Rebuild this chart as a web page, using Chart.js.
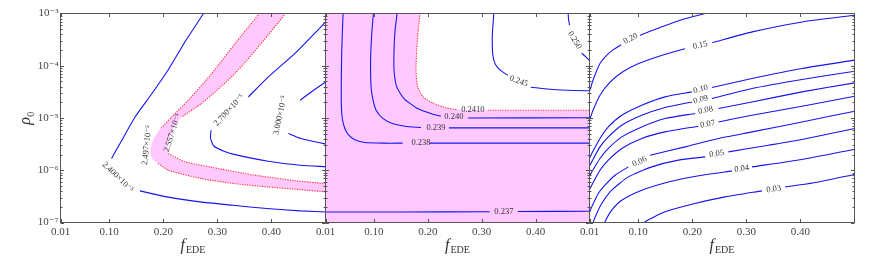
<!DOCTYPE html>
<html>
<head>
<meta charset="utf-8">
<script src="https://cdn.jsdelivr.net/npm/chart.js@4.4.0/dist/chart.umd.min.js"></script>
<style>
  html, body { margin: 0; padding: 0; background: #fff; }
  #wrap { position: relative; width: 872px; height: 262px; }
  #wrap canvas { position: absolute; left: 0; top: 0; }
</style>
</head>
<body>
<div id="wrap">
  <canvas id="c1" width="872" height="262"></canvas>
  <canvas id="c2" width="872" height="262"></canvas>
  <canvas id="c3" width="872" height="262"></canvas>
</div>
<script>
// axes
const xTicks = [0.01, 0.1, 0.2, 0.3, 0.4];
const xTickLabels = ['0.01', '0.10', '0.20', '0.30', '0.40'];
const yTicks = [1e-7, 1e-6, 1e-5, 1e-4, 1e-3];
const yTickLabels = ['10⁻⁷', '10⁻⁶', '10⁻⁵', '10⁻⁴', '10⁻³'];

// panel 1 contours [f_EDE, rho0], split where the inline label sits
const p1c2400 = [
  [[0.279, 1.26e-3], [0.2744, 1e-3], [0.242, 3.08e-4], [0.2087, 8.22e-5], [0.1781, 2.85e-5], [0.1476, 1.035e-5], [0.1235, 3.76e-6], [0.1044, 1.68e-6]],
  [[0.1569, 4.03e-7], [0.2063, 3.09e-7], [0.268, 2.48e-7], [0.329, 2.14e-7], [0.3915, 1.85e-7], [0.4532, 1.67e-7], [0.51, 1.58e-7]]
];
const p1c2497 = [
  [[0.379, 1.26e-3], [0.3772, 1e-3], [0.3328, 2.67e-4], [0.2896, 7.11e-5], [0.2463, 2.19e-5], [0.2156, 1.05e-5], [0.1957, 6.38e-6]],
  [[0.1907, 1.35e-6], [0.2093, 1.0e-6], [0.2711, 6.89e-7], [0.3328, 5.53e-7], [0.3944, 4.78e-7], [0.4531, 4.25e-7], [0.5013, 3.88e-7]]
];
const p1c2497Bend = [[0.1828, 4.10e-6], [0.1763, 2.42e-6], [0.1791, 1.70e-6]];
const p1c2557 = [
  [[0.4272, 1.26e-3], [0.4254, 1e-3], [0.3939, 3.85e-4], [0.3328, 7.11e-5], [0.2711, 1.90e-5], [0.2341, 1.05e-5]],
  [[0.2093, 2.09e-6], [0.2402, 1.45e-6], [0.3019, 1.08e-6], [0.3637, 8.22e-7], [0.4439, 6.31e-7], [0.5013, 5.53e-7]]
];
const p1c2557Bend = [[0.2217, 7.28e-6], [0.2106, 3.76e-6]];
const p1c2700 = [
  [[0.3574, 2.54e-5], [0.3939, 6.04e-5], [0.4439, 1.74e-4], [0.5087, 8.5e-4]],
  [[0.2883, 5.84e-6], [0.2874, 4.10e-6], [0.2939, 2.88e-6], [0.3124, 2.32e-6], [0.3328, 1.99e-6], [0.3939, 1.49e-6], [0.4531, 1.25e-6], [0.5013, 1.17e-6]]
];
const p1c3000 = [
  [[0.4531, 2.19e-5], [0.4754, 3.26e-5], [0.5013, 4.95e-5]],
  [[0.4315, 5.05e-6], [0.4531, 4.10e-6], [0.5013, 3.15e-6]]
];
const p1Labels = [
  ['2.400×10⁻⁵', 0.1161, 7.36e-7],
  ['2.497×10⁻⁵', 0.1698, 3.01e-6],
  ['2.557×10⁻⁵', 0.217, 5.23e-6],
  ['2.700×10⁻⁵', 0.3217, 1.41e-5],
  ['3.000×10⁻⁵', 0.4161, 1.13e-5]
];
const p1Angles = [44, -84, -72, -47, -78];

// panel 2
const p2c2410 = [
  [[0.1854, 1.26e-3], [0.1854, 1e-3], [0.1822, 4.79e-4], [0.1793, 1.99e-4], [0.178, 8.22e-5], [0.1807, 4.06e-5], [0.1909, 2.56e-5], [0.2094, 1.92e-5], [0.2335, 1.57e-5], [0.2539, 1.44e-5]],
  [[0.3113, 1.41e-5], [0.51, 1.41e-5]]
];
const p2c240 = [
  [[0.1428, 1.26e-3], [0.1428, 1e-3], [0.1391, 4.79e-4], [0.1372, 1.99e-4], [0.1372, 8.22e-5], [0.1422, 3.94e-5], [0.1557, 2.36e-5], [0.1798, 1.54e-5], [0.2094, 1.18e-5], [0.2243, 1.08e-5]],
  [[0.2743, 1.0e-5], [0.51, 1.01e-5]]
];
const p2c239 = [
  [[0.0989, 1.26e-3], [0.0989, 1e-3], [0.0959, 4.20e-4], [0.0937, 1.28e-4], [0.0946, 3.88e-5], [0.0983, 2.19e-5], [0.1039, 1.41e-5], [0.1169, 9.7e-6], [0.1354, 7.78e-6], [0.1576, 6.97e-6], [0.1872, 6.58e-6]],
  [[0.2391, 6.47e-6], [0.51, 6.47e-6]]
];
const p2c238 = [
  [[0.043, 1.26e-3], [0.0426, 1e-3], [0.0402, 1.99e-4], [0.0393, 2.19e-5], [0.0411, 9.9e-6], [0.0457, 6.38e-6], [0.0532, 4.69e-6], [0.0643, 3.85e-6], [0.0828, 3.40e-6], [0.1198, 3.30e-6], [0.1531, 3.30e-6]],
  [[0.2031, 3.30e-6], [0.51, 3.30e-6]]
];
const p2c237 = [
  [[0.0, 1.59e-7], [0.1483, 1.59e-7], [0.315, 1.61e-7]],
  [[0.3669, 1.62e-7], [0.51, 1.64e-7]]
];
const p2c245 = [
  [[0.3224, 1.26e-3], [0.3224, 1e-3], [0.3196, 3.85e-4], [0.3206, 1.59e-4], [0.3252, 1.07e-4], [0.3354, 8.04e-5], [0.3483, 6.59e-5]],
  [[0.3909, 3.88e-5], [0.4317, 3.51e-5], [0.4724, 3.36e-5], [0.51, 3.30e-5]]
];
const p2c250 = [
  [[0.4604, 1.26e-3], [0.4604, 1e-3], [0.4613, 7.44e-4], [0.4631, 5.97e-4]],
  [[0.4854, 1.74e-4], [0.4928, 1.49e-4], [0.51, 1.0e-4]]
];
const p2Labels = [
  ['0.2410', 0.2835, 1.44e-5],
  ['0.240', 0.2483, 1.035e-5],
  ['0.239', 0.215, 6.5e-6],
  ['0.238', 0.1872, 3.3e-6],
  ['0.237', 0.341, 1.6e-7],
  ['0.245', 0.3687, 5.06e-5],
  ['0.250', 0.4724, 3.08e-4]
];
const p2Angles = [0, 0, 0, 0, 0, 20, 58];

// panel 3
const p3c20 = [
  [[0.0054, 2.39e-5], [0.01, 3.26e-5], [0.0165, 5.29e-5], [0.0294, 1.10e-4], [0.048, 1.82e-4], [0.0683, 2.53e-4]],
  [[0.1035, 3.85e-4], [0.1406, 5.40e-4], [0.1831, 7.78e-4], [0.2239, 1e-3], [0.2369, 1.1e-3]]
];
const p3c15 = [
  [[0.0054, 6.97e-6], [0.01, 9.08e-6], [0.0165, 1.41e-5], [0.0294, 2.73e-5], [0.048, 4.84e-5], [0.0702, 7.53e-5], [0.0998, 1.09e-4], [0.1443, 1.59e-4], [0.1869, 2.12e-4]],
  [[0.2369, 2.76e-4], [0.3109, 4.45e-4], [0.4035, 6.90e-4], [0.5007, 9.28e-4]]
];
const p3c10 = [
  [[0.0054, 1.43e-6], [0.01, 1.70e-6], [0.0141, 2.09e-6], [0.0294, 4.06e-6], [0.0448, 6.76e-6], [0.0696, 1.13e-5], [0.1067, 1.76e-5], [0.1498, 2.54e-5], [0.1993, 3.16e-5]],
  [[0.2363, 3.84e-5], [0.3104, 5.70e-5], [0.403, 8.86e-5], [0.5004, 1.28e-4]]
];
const p3c09 = [
  [[0.0054, 1.0e-6], [0.01, 1.20e-6], [0.0141, 1.45e-6], [0.0294, 2.80e-6], [0.0448, 4.35e-6], [0.0696, 7.28e-6], [0.1067, 1.13e-5], [0.1498, 1.59e-5], [0.1993, 2.03e-5]],
  [[0.2363, 2.36e-5], [0.3104, 3.67e-5], [0.403, 5.46e-5], [0.5004, 7.87e-5]]
];
const p3c08 = [
  [[0.0054, 6.45e-7], [0.01, 7.69e-7], [0.0141, 9.29e-7], [0.0294, 1.68e-6], [0.0448, 2.61e-6], [0.0696, 4.35e-6], [0.1067, 6.76e-6], [0.1498, 9.77e-6], [0.2054, 1.22e-5]],
  [[0.2485, 1.52e-5], [0.3104, 2.03e-5], [0.403, 3.16e-5], [0.5004, 4.70e-5]]
];
const p3c07 = [
  [[0.0054, 3.64e-7], [0.01, 4.34e-7], [0.0141, 5.18e-7], [0.0294, 1.0e-6], [0.0448, 1.56e-6], [0.0696, 2.61e-6], [0.1067, 4.06e-6], [0.1498, 5.42e-6], [0.2115, 6.97e-6]],
  [[0.2485, 8.41e-6], [0.3104, 1.13e-5], [0.403, 1.68e-5], [0.5004, 2.61e-5]]
];
const p3c06 = [
  [[0.0054, 1.26e-7], [0.01, 1.57e-7], [0.0141, 1.99e-7], [0.0263, 3.59e-7], [0.0387, 5.18e-7], [0.0572, 8.04e-7], [0.0819, 1.16e-6]],
  [[0.122, 1.94e-6], [0.1869, 2.80e-6], [0.2485, 4.06e-6], [0.3104, 5.42e-6], [0.403, 8.41e-6], [0.5004, 1.35e-5]]
];
const p3c05 = [
  [[0.0146, 8.5e-8], [0.017, 1.03e-7], [0.0233, 1.49e-7], [0.0326, 2.31e-7], [0.0511, 4.15e-7], [0.0819, 7.46e-7], [0.1252, 1.16e-6], [0.1744, 1.56e-6], [0.2239, 1.80e-6]],
  [[0.267, 2.25e-6], [0.3411, 3.01e-6], [0.403, 3.88e-6], [0.5004, 6.30e-6]]
];
const p3c04 = [
  [[0.0369, 8.5e-8], [0.0387, 1.03e-7], [0.0511, 1.72e-7], [0.0696, 2.67e-7], [0.1067, 4.15e-7], [0.1559, 5.98e-7], [0.2178, 8.04e-7], [0.2733, 9.72e-7]],
  [[0.3104, 1.16e-6], [0.403, 1.61e-6], [0.5004, 2.53e-6]]
];
const p3c03 = [
  [[0.1091, 8.5e-8], [0.1128, 1.03e-7], [0.1498, 1.60e-7], [0.1993, 2.24e-7], [0.2609, 3.09e-7], [0.3289, 4.03e-7]],
  [[0.372, 4.80e-7], [0.4337, 5.98e-7], [0.5004, 8.3e-7]]
];
const p3Labels = [
  ['0.20', 0.0859, 3.3e-4],
  ['0.15', 0.2146, 2.47e-4],
  ['0.10', 0.2156, 3.56e-5],
  ['0.09', 0.2156, 2.24e-5],
  ['0.08', 0.2248, 1.41e-5],
  ['0.07', 0.2285, 7.6e-6],
  ['0.06', 0.1026, 1.46e-6],
  ['0.05', 0.2452, 2.07e-6],
  ['0.04', 0.2915, 1.07e-6],
  ['0.03', 0.3507, 4.34e-7]
];
const p3Angles = [-28, -13, -14, -14, -12, -11, -25, -10, -9, -8];

const BLUE = '#1414f0';
const RED = '#ff2a2a';
const PINK = '#ffc8ff';
const SERIF = '"Liberation Serif", "DejaVu Serif", serif';

const pts = arr => arr.map(([x, y]) => ({ x, y }));

function contour(segs, dotted) {
  return segs.map(s => ({
    data: pts(s),
    showLine: true,
    borderColor: dotted ? RED : BLUE,
    borderWidth: 1.1,
    borderDash: dotted ? [1.2, 1.3] : [],
    pointRadius: 0,
    tension: 0.2,
    fill: false,
    clip: 0,
    order: 1,
  }));
}

function region(poly) {
  return {
    data: pts(poly),
    showLine: true,
    borderWidth: 0,
    borderColor: 'rgba(0,0,0,0)',
    backgroundColor: PINK,
    pointRadius: 0,
    tension: 0.2,
    fill: 'shape',
    clip: 0,
    order: 10,
  };
}

const axisDeco = {
  id: 'axisDeco',
  afterDatasetsDraw(chart, args, opts) {
    const { ctx, chartArea: a, scales: { x, y } } = chart;
    ctx.save();
    ctx.strokeStyle = '#555';
    ctx.lineWidth = 1;
    ctx.strokeRect(a.left, a.top, a.right - a.left, a.bottom - a.top);
    ctx.beginPath();
    xTicks.forEach(v => {
      const px = Math.round(x.getPixelForValue(v)) + 0.5;
      ctx.moveTo(px, a.bottom); ctx.lineTo(px, a.bottom - 3.5);
      ctx.moveTo(px, a.top); ctx.lineTo(px, a.top + 3.5);
    });
    for (let d = -7; d <= -4; d++) {
      for (let m = 1; m <= 9; m++) {
        const v = m * Math.pow(10, d);
        const py = Math.round(y.getPixelForValue(v)) + 0.5;
        const len = m === 1 ? 3.5 : 2;
        ctx.moveTo(a.left, py); ctx.lineTo(a.left + len, py);
        ctx.moveTo(a.right, py); ctx.lineTo(a.right - len, py);
      }
    }
    ctx.stroke();

    // inline contour labels
    ctx.fillStyle = '#333';
    ctx.font = '8.5px ' + SERIF;
    ctx.textAlign = 'center';
    ctx.textBaseline = 'middle';
    opts.labels.forEach(([txt, fv, rv], i) => {
      ctx.save();
      ctx.translate(x.getPixelForValue(fv), y.getPixelForValue(rv));
      ctx.rotate(opts.angles[i] * Math.PI / 180);
      ctx.fillText(txt, 0, 0);
      ctx.restore();
    });

    // axis titles
    ctx.fillStyle = '#333';
    ctx.textAlign = 'left';
    ctx.textBaseline = 'alphabetic';
    const cx = (a.left + a.right) / 2;
    ctx.font = 'italic 16px ' + SERIF;
    const fw = ctx.measureText('f').width;
    ctx.font = '10px ' + SERIF;
    const sw = ctx.measureText('EDE').width;
    const x0 = cx - (fw + sw + 1) / 2;
    ctx.font = 'italic 16px ' + SERIF;
    ctx.fillText('f', x0, 250);
    ctx.font = '10px ' + SERIF;
    ctx.fillText('EDE', x0 + fw + 1, 253);
    if (opts.yTitle) {
      ctx.save();
      ctx.translate(30, (a.top + a.bottom) / 2);
      ctx.rotate(-Math.PI / 2);
      ctx.font = 'italic 16px ' + SERIF;
      const rw = ctx.measureText('ρ').width;
      const r0 = -(rw + 6) / 2;
      ctx.fillText('ρ', r0, 0);
      ctx.font = '10px ' + SERIF;
      ctx.fillText('0', r0 + rw + 0.5, 4);
      ctx.restore();
    }
    ctx.restore();
  }
};

function makeChart(id, left, right, datasets, labels, angles, yShow) {
  return new Chart(document.getElementById(id), {
    type: 'scatter',
    data: { datasets },
    options: {
      responsive: false,
      animation: false,
      events: [],
      layout: { padding: { left: yShow ? 0 : left, right: 872 - right, top: 13.5, bottom: 0 } },
      plugins: {
        legend: { display: false },
        tooltip: { enabled: false },
        axisDeco: { labels, angles, yTitle: yShow },
      },
      scales: {
        x: {
          type: 'linear',
          min: 0.01,
          max: 0.5,
          afterBuildTicks: s => { s.ticks = xTicks.map(v => ({ value: v })); },
          afterFit: s => { s.height = 39.5; },
          ticks: {
            autoSkip: false,
            maxRotation: 0,
            padding: 3,
            color: '#444',
            font: { family: SERIF, size: 11 },
            callback: (v, i) => xTickLabels[i],
          },
          grid: { display: false, drawTicks: false },
          border: { display: false },
        },
        y: {
          type: 'logarithmic',
          display: yShow,
          min: 1e-7,
          max: 1e-3,
          afterBuildTicks: s => { s.ticks = yTicks.map(v => ({ value: v })); },
          afterFit: s => { s.width = yShow ? left : 0; },
          ticks: {
            padding: 2,
            color: '#444',
            font: { family: SERIF, size: 11 },
            callback: (v, i) => yTickLabels[i],
          },
          grid: { display: false, drawTicks: false },
          border: { display: false },
        },
      },
    },
    plugins: [axisDeco],
  });
}

// panel 1: band between 2.497e-5 and 2.557e-5
const band1 = [].concat(p1c2497[0], p1c2497Bend, p1c2497[1],
  p1c2557[1].slice().reverse(), p1c2557Bend.slice().reverse(), p1c2557[0].slice().reverse());
makeChart('c1', 60.5, 325.5, [
  ...contour(p1c2400), ...contour(p1c2700), ...contour(p1c3000),
  ...contour(p1c2497, true), ...contour(p1c2557, true),
  region(band1),
], p1Labels, p1Angles, true);

// panel 2: everything below/left of the 0.2410 contour
const region2 = [].concat([[0.0, 1.26e-3]], p2c2410[0], p2c2410[1], [[0.52, 1.41e-5], [0.52, 8e-8], [0.0, 8e-8]]);
makeChart('c2', 325.5, 589.5, [
  ...contour(p2c240), ...contour(p2c239), ...contour(p2c238), ...contour(p2c237),
  ...contour(p2c245), ...contour(p2c250),
  ...contour(p2c2410, true),
  region(region2),
], p2Labels, p2Angles, false);

makeChart('c3', 589.5, 854.5, [
  ...contour(p3c20), ...contour(p3c15), ...contour(p3c10), ...contour(p3c09), ...contour(p3c08),
  ...contour(p3c07), ...contour(p3c06), ...contour(p3c05), ...contour(p3c04), ...contour(p3c03),
], p3Labels, p3Angles, false);
</script>
</body>
</html>
